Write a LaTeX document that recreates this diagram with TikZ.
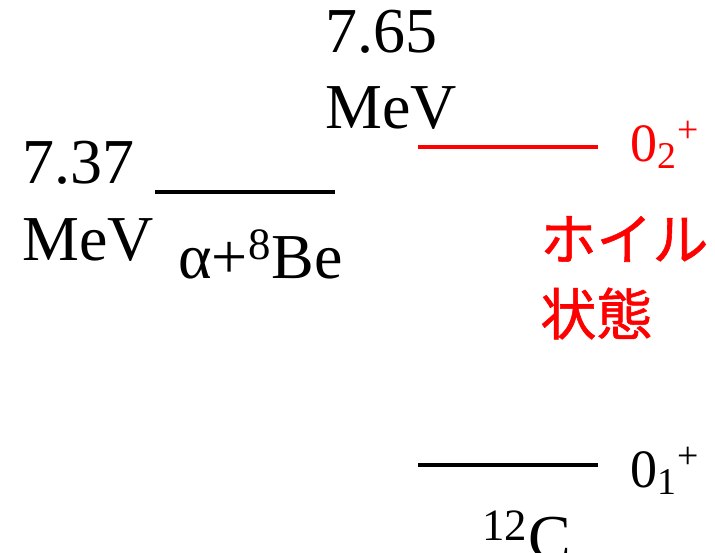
\documentclass[tikz,border=0pt]{standalone}
\usepackage{fontspec}
\setmainfont{Liberation Serif}
\newfontfamily\jpfont[FakeBold=1]{Noto Sans CJK JP}
\usetikzlibrary{positioning}
\definecolor{hoylered}{RGB}{255,0,0}

\begin{document}
\begin{tikzpicture}[
    x=0.5pt,y=-0.5pt,
    every node/.style={inner sep=0pt,font=\fontsize{32}{38}\selectfont},
    level/.style={line width=2pt},
    lbl/.style={anchor=base west},
    spin/.style={anchor=base west,font=\fontsize{27}{32}\selectfont}
  ]
    \useasboundingbox (0,0) rectangle (715,552);
    % levels
    \coordinate (be-l) at (155,192);
    \coordinate (be-r) at (335,192);
    \coordinate (hoyle-l) at (418,147);
    \coordinate (hoyle-r) at (598,147);
    \coordinate (gs-l) at (418,465);
    \coordinate (gs-r) at (598,465);
    \draw[level] (be-l) -- (be-r);
    \draw[level,hoylered] (hoyle-l) -- (hoyle-r);
    \draw[level] (gs-l) -- (gs-r);
    % energies
    \node[lbl] (e737) at (22,183) {7.37};
    \node[lbl] (e737u) at (22,260) {MeV};
    \node[lbl] (e765) at (325,52) {7.65};
    \node[lbl] (e765u) at (325,128) {MeV};
    \node[lbl] (abe) at (178,278) {α+\textsuperscript{8}Be};
    \node[lbl] (c12) at (482,559) {\textsuperscript{12}C};
    % spins
    \node[spin,hoylered] (s02) at (630,161) {0\textsubscript{2}\textsuperscript{+}};
    \node[spin] (s01) at (630,487) {0\textsubscript{1}\textsuperscript{+}};
    \node[anchor=base west,align=left,text=hoylered,
          font=\jpfont\fontsize{28}{37.5}\selectfont] (hoyle) at (540,335) {ホイル\\状態};
  \end{tikzpicture}
\end{document}
